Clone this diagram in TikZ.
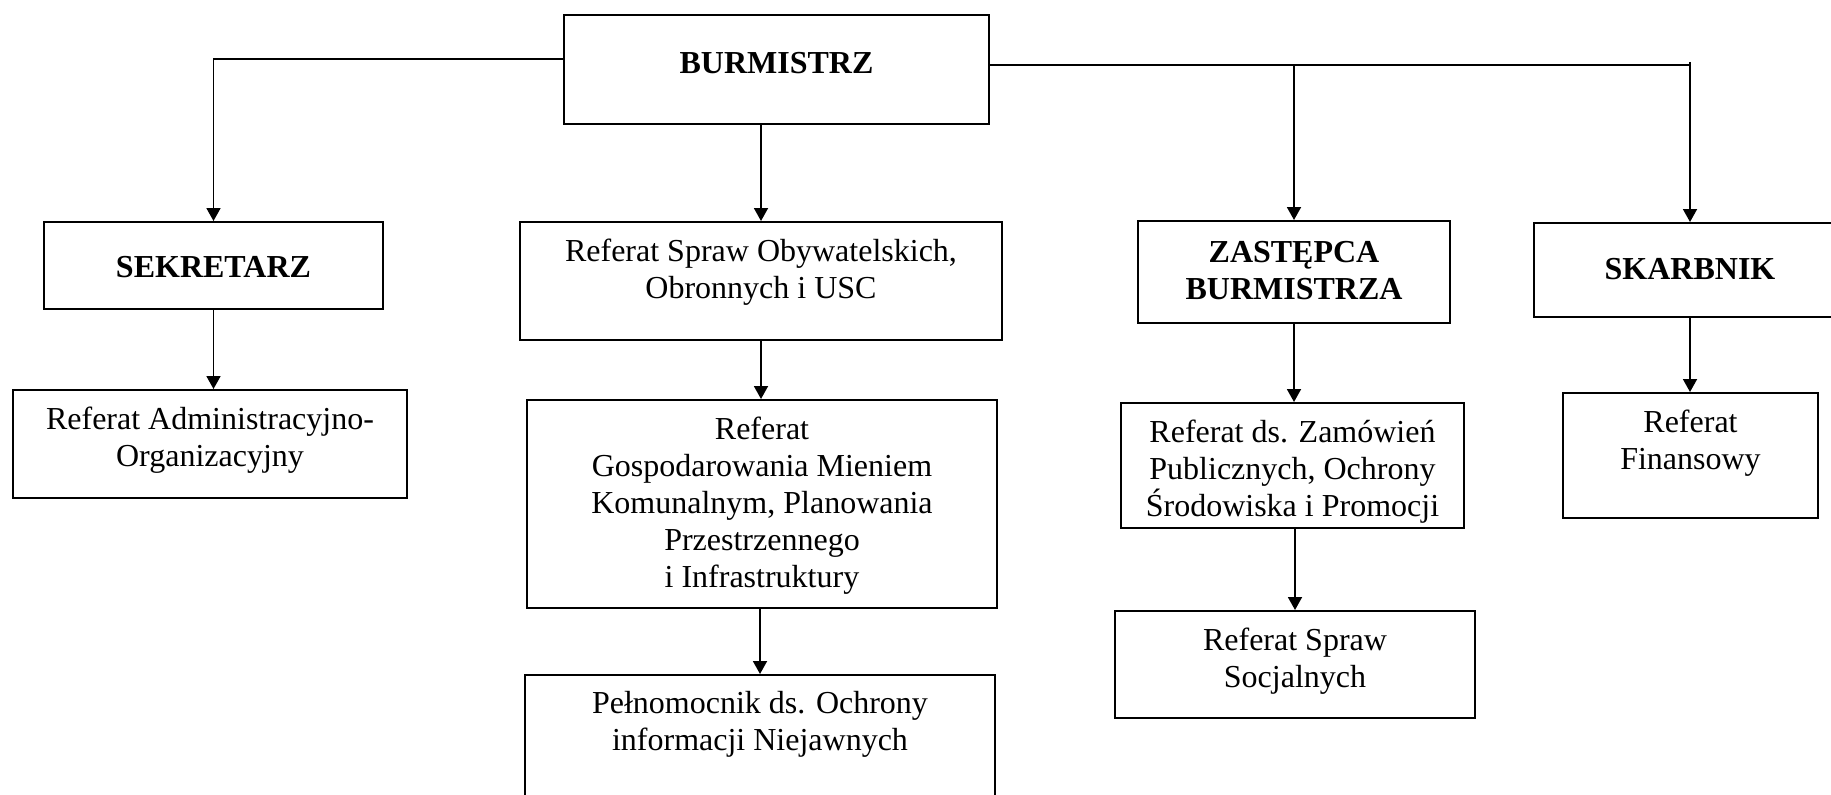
\documentclass[tikz,border=0pt]{standalone}
\usepackage{fontspec}
\setmainfont{Liberation Serif}
\usetikzlibrary{arrows.meta}

\begin{document}
\begin{tikzpicture}[x=0.5pt,y=-0.5pt,
	unit/.style={draw,line width=0.9pt,inner sep=0pt,align=center,anchor=north,
		font=\fontsize{16}{18.5}\selectfont},
	head/.style={unit,font=\fontsize{16}{18.5}\selectfont\bfseries},
	link/.style={line width=0.9pt,-{Triangle[length=6.5pt,width=7pt]}}]
	\useasboundingbox (0,0) rectangle (1831,794);

	\node[head,minimum width=212.5pt,text height=29.25pt,text depth=25.25pt] (burm) at (776.5,14) {BURMISTRZ};
	\node[head,minimum width=169.5pt,text height=28pt,text depth=15.5pt] (sekr) at (213.5,221) {SEKRETARZ};
	\node[unit,minimum width=241pt,text height=38.25pt,text depth=20.75pt] (obyw) at (761,221)
		{Referat Spraw Obywatelskich,\\ Obronnych i USC};
	\node[head,minimum width=156pt,text height=39.25pt,text depth=11.75pt] (zast) at (1294,220)
		{ZASTĘPCA\\ BURMISTRZA};
	\node[head,minimum width=156pt,text height=28.5pt,text depth=18.5pt] (skarb) at (1690,222) {SKARBNIK};

	\node[unit,minimum width=197pt,text height=38.25pt,text depth=15.75pt] (admin) at (210,389)
		{Referat Administracyjno-\\ Organizacyjny};
	\node[unit,minimum width=235pt,text height=93.75pt,text depth=10.25pt] (gosp) at (762,399)
		{Referat\\ Gospodarowania Mieniem\\ Komunalnym, Planowania\\ Przestrzennego\\ i Infrastruktury};
	\node[unit,minimum width=235pt,text height=38pt,text depth=37pt] (pelno) at (760,674)
		{Pełnomocnik ds. Ochrony\\ informacji Niejawnych};
	\node[unit,minimum width=171.5pt,text height=57pt,text depth=5.5pt] (zam) at (1292.5,402)
		{Referat ds. Zamówień\\ Publicznych, Ochrony\\ Środowiska i Promocji};
	\node[unit,minimum width=180pt,text height=38.5pt,text depth=15pt] (socj) at (1295,610)
		{Referat Spraw\\ Socjalnych};
	\node[unit,minimum width=127.5pt,text height=38.5pt,text depth=24pt] (fin) at (1690.5,392)
		{Referat\\ Finansowy};

	\coordinate (bleft) at ([yshift=5.25pt]burm.west);
	\coordinate (bright) at ([yshift=2.25pt]burm.east);
	\draw[link] (bleft) -| (sekr.north);
	\draw[link] (burm.south -| obyw.north) -- (obyw.north);
	\draw[line width=0.9pt] (bright) -- (bright -| skarb.north);
	\draw[link] (bright -| zast.north) -- (zast.north);
	\draw[link] ([yshift=1.5pt]bright -| skarb.north) -- (skarb.north);

	\draw[link] (sekr.south) -- (sekr.south |- admin.north);
	\draw[link] (obyw.south) -- (obyw.south |- gosp.north);
	\draw[link] (gosp.south -| pelno.north) -- (pelno.north);
	\draw[link] (zast.south) -- (zast.south |- zam.north);
	\draw[link] (zam.south -| socj.north) -- (socj.north);
	\draw[link] (skarb.south) -- (skarb.south |- fin.north);
\end{tikzpicture}
\end{document}
